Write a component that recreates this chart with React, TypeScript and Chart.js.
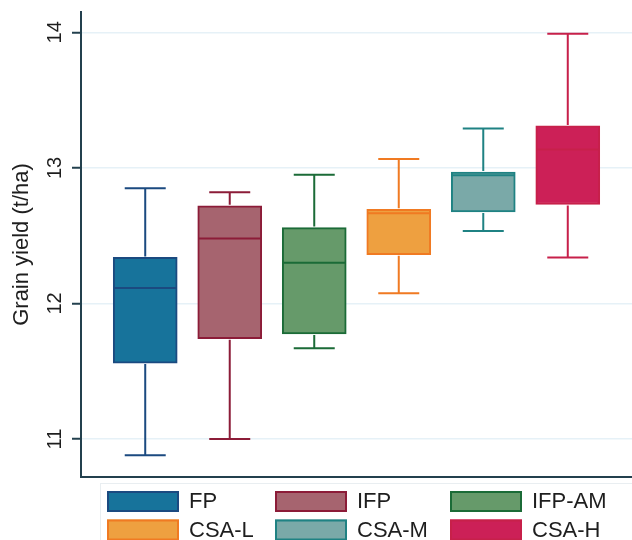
import React, { useEffect, useRef } from "react";
import { Chart, registerables } from "chart.js";

Chart.register(...registerables);

const categories = ["FP", "IFP", "IFP-AM", "CSA-L", "CSA-M", "CSA-H"];
const minValues = [10.88, 11.0, 11.67, 12.075, 12.535, 12.34];
const q1Values = [11.56, 11.74, 11.775, 12.36, 12.675, 12.73];
const medianValues = [12.115, 12.48, 12.3, 12.665, 12.945, 13.135];
const q3Values = [12.34, 12.72, 12.56, 12.695, 12.97, 13.31];
const maxValues = [12.85, 12.82, 12.95, 13.065, 13.29, 13.99];
const yTickValues = [11, 12, 13, 14];

const fillColors = ["#17739b", "#a6646f", "#669a6a", "#eea040", "#7aa9a8", "#cc2057"];
const lineColors = ["#1b4a80", "#8c1c38", "#1b6b37", "#f07a22", "#1f8283", "#c7204a"];

const FONT = "'Liberation Sans', Arial, Helvetica, sans-serif";
const AXIS_COLOR = "#23404e";
const TEXT_COLOR = "#1e1e1e";

const boxPlugin = {
  id: "boxWhiskers",
  afterDatasetsDraw(chart: any) {
    const ctx = chart.ctx;
    const xs = chart.scales.x;
    const ys = chart.scales.y;
    ctx.save();
    categories.forEach((_, i) => {
      const x = xs.getPixelForValue(i + 1);
      const col = lineColors[i];
      ctx.strokeStyle = col;
      ctx.lineWidth = 2;
      ctx.lineCap = "butt";
      const yMin = ys.getPixelForValue(minValues[i]);
      const yQ1 = ys.getPixelForValue(q1Values[i]);
      const yMed = ys.getPixelForValue(medianValues[i]);
      const yQ3 = ys.getPixelForValue(q3Values[i]);
      const yMax = ys.getPixelForValue(maxValues[i]);
      ctx.beginPath();
      ctx.moveTo(x, yQ3 - 1);
      ctx.lineTo(x, yMax);
      ctx.moveTo(x, yQ1 + 1);
      ctx.lineTo(x, yMin);
      ctx.moveTo(x - 20.5, yMax);
      ctx.lineTo(x + 20.5, yMax);
      ctx.moveTo(x - 20.5, yMin);
      ctx.lineTo(x + 20.5, yMin);
      ctx.moveTo(x - 31, yMed);
      ctx.lineTo(x + 31, yMed);
      ctx.stroke();
    });
    ctx.restore();
  },
  afterDraw(chart: any) {
    const ctx = chart.ctx;
    const ys = chart.scales.y;
    ctx.save();
    // y tick labels (rotated)
    ctx.fillStyle = TEXT_COLOR;
    ctx.font = `20px ${FONT}`;
    ctx.textAlign = "center";
    ctx.textBaseline = "middle";
    yTickValues.forEach((v) => {
      const y = ys.getPixelForValue(v);
      ctx.save();
      ctx.translate(55, y);
      ctx.rotate(-Math.PI / 2);
      ctx.fillText(String(v), 0, 0);
      ctx.restore();
    });
    // legend
    ctx.strokeStyle = "#e9eef1";
    ctx.lineWidth = 1;
    ctx.strokeRect(100.5, 483.5, 560, 80);
    const colX = [107, 275, 450];
    const rowY = [491, 519.5];
    ctx.font = `22px ${FONT}`;
    ctx.textAlign = "left";
    ctx.textBaseline = "middle";
    categories.forEach((name, i) => {
      const c = i % 3;
      const r = Math.floor(i / 3);
      const x = colX[c];
      const y = rowY[r];
      ctx.fillStyle = fillColors[i];
      ctx.fillRect(x, y, 72, 21);
      ctx.strokeStyle = lineColors[i];
      ctx.lineWidth = 2;
      ctx.strokeRect(x + 1, y + 1, 70, 19);
      ctx.fillStyle = TEXT_COLOR;
      ctx.fillText(name, x + 82, y + 11);
    });
    ctx.restore();
  },
};

export default function App() {
  const ref = useRef<HTMLCanvasElement>(null);
  useEffect(() => {
    const canvas = ref.current;
    if (!canvas) return;
    const chart = new Chart(canvas, {
      type: "bar",
      data: {
        datasets: [
          {
            label: "Grain yield",
            data: categories.map((_, i) => ({ x: i + 1, y: [q1Values[i], q3Values[i]] })) as any,
            backgroundColor: fillColors,
            borderColor: lineColors,
            borderWidth: 2,
            borderSkipped: false,
            barThickness: 64,
            grouped: false,
          } as any,
        ],
      },
      options: {
        animation: false,
        responsive: false,
        devicePixelRatio: 1,
        layout: { padding: { top: 12, left: 0, right: 0, bottom: 0 } },
        plugins: { legend: { display: false }, tooltip: { enabled: false } },
        scales: {
          x: {
            type: "linear",
            min: 0.24,
            max: 6.76,
            offset: false,
            grid: { display: false },
            ticks: { display: false },
            border: { display: true, color: AXIS_COLOR, width: 2 },
            afterFit: (s: any) => {
              s.height = 63;
            },
          },
          y: {
            type: "linear",
            min: 10.72,
            max: 14.15,
            afterBuildTicks: (s: any) => {
              s.ticks = yTickValues.map((v) => ({ value: v }));
            },
            grid: {
              color: "#e6f1f7",
              lineWidth: 1.5,
              drawTicks: true,
              tickLength: 9,
              tickColor: AXIS_COLOR,
              tickWidth: 2,
            },
            ticks: { display: false },
            border: { display: true, color: AXIS_COLOR, width: 2 },
            title: {
              display: true,
              text: "Grain yield (t/ha)",
              color: TEXT_COLOR,
              font: { family: FONT, size: 22 },
              padding: { top: 9, bottom: 0 },
            },
            afterFit: (s: any) => {
              s.width = 81;
            },
          },
        },
      },
      plugins: [boxPlugin],
    });
    return () => chart.destroy();
  }, []);
  return (
    <div style={{ position: "absolute", left: 0, top: 0, width: 632, height: 540, background: "#fff" }}>
      <canvas ref={ref} width={632} height={540} />
    </div>
  );
}
